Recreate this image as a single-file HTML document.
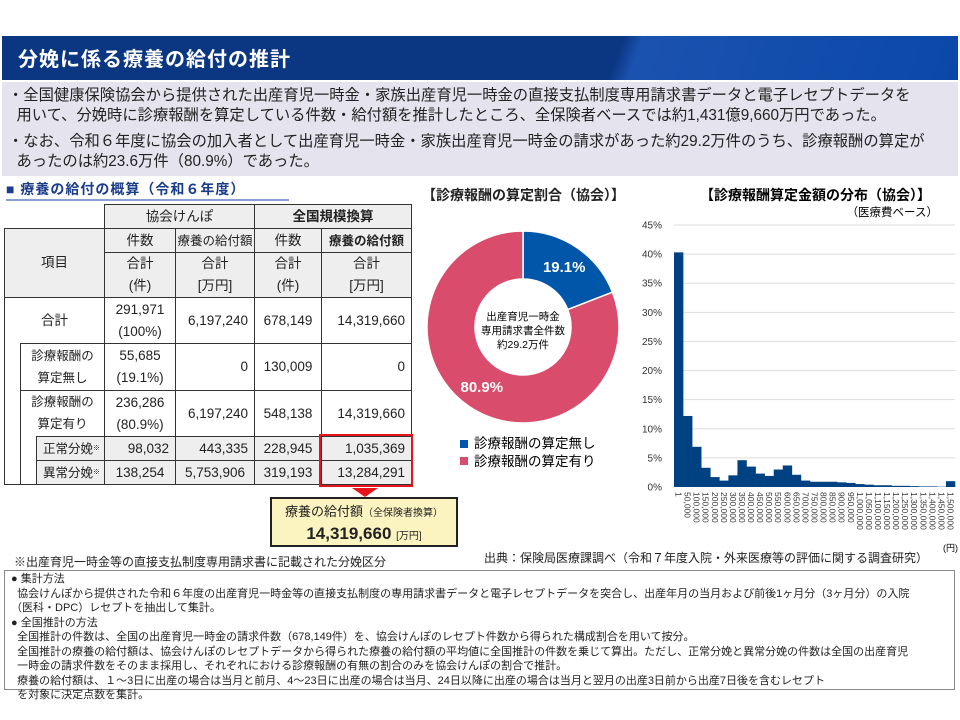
<!DOCTYPE html>
<html><head><meta charset="utf-8">
<style>
*{margin:0;padding:0;box-sizing:border-box}
body{width:960px;height:720px;background:#fff;position:relative;overflow:hidden;font-family:"Liberation Sans","Noto Sans CJK JP",sans-serif;color:#222}
.a{position:absolute}
.c{position:absolute;border:1.5px solid #333;display:flex;align-items:center;justify-content:center;text-align:center;font-size:13.5px;line-height:22px;background:#fff}
.g{background:#eee}
.r{justify-content:flex-end;padding-right:6px}
.l{justify-content:flex-start;padding-left:6px;text-align:left}
</style></head><body>
<div class="a" style="left:2px;top:36px;width:956px;height:44px;background:linear-gradient(110deg,#0b3682 0%,#0b3682 64%,#1b52b0 66%,#0a48a8 100%)"></div>
<div class="a" style="left:18px;top:43px;font-size:20px;font-weight:bold;color:#fff;letter-spacing:1px">分娩に係る療養の給付の推計</div>
<div class="a" style="left:2px;top:82px;width:956px;height:94px;background:#e5e4ee;font-size:15.3px;line-height:20px;padding:4px 6px;white-space:nowrap">
<div>・全国健康保険協会から提供された出産育児一時金・家族出産育児一時金の直接支払制度専用請求書データと電子レセプトデータを<br>&nbsp;&nbsp;用いて、分娩時に診療報酬を算定している件数・給付額を推計したところ、全保険者ベースでは約1,431億9,660万円であった。</div>
<div style="margin-top:6px">・なお、令和６年度に協会の加入者として出産育児一時金・家族出産育児一時金の請求があった約29.2万件のうち、診療報酬の算定が<br>&nbsp;&nbsp;あったのは約23.6万件（80.9%）であった。</div>
</div>
<div class="a" style="left:6px;top:179px;font-size:14px;font-weight:bold;color:#1a3c8c;border-bottom:2px solid #8aa0d0;letter-spacing:1px;width:283px">■ 療養の給付の概算（令和６年度）</div>

<div>
<div class="c g" style="left:104px;top:204px;width:151px;height:25px">協会けんぽ</div>
<div class="c g" style="left:254px;top:204px;width:158px;height:25px;font-weight:bold">全国規模換算</div>
<div class="c g" style="left:4px;top:228px;width:101px;height:70px">項目</div>
<div class="c g" style="left:104px;top:228px;width:72px;height:25px">件数</div>
<div class="c g" style="left:175px;top:228px;width:80px;height:25px;font-size:12.5px">療養の給付額</div>
<div class="c g" style="left:254px;top:228px;width:68px;height:25px">件数</div>
<div class="c g" style="left:321px;top:228px;width:91px;height:25px;font-weight:bold;font-size:12.5px">療養の給付額</div>
<div class="c g" style="left:104px;top:252px;width:72px;height:46px">合計<br>(件)</div>
<div class="c g" style="left:175px;top:252px;width:80px;height:46px">合計<br>[万円]</div>
<div class="c g" style="left:254px;top:252px;width:68px;height:46px">合計<br>(件)</div>
<div class="c g" style="left:321px;top:252px;width:91px;height:46px">合計<br>[万円]</div>

<div class="c" style="left:4px;top:297px;width:101px;height:188px;align-items:flex-start;padding-top:12px">合計</div>
<div class="c" style="left:104px;top:297px;width:72px;height:47px">291,971<br>(100%)</div>
<div class="c r" style="left:175px;top:297px;width:80px;height:47px">6,197,240</div>
<div class="c" style="left:254px;top:297px;width:68px;height:47px">678,149</div>
<div class="c r" style="left:321px;top:297px;width:91px;height:47px">14,319,660</div>

<div class="c" style="left:20px;top:343px;width:85px;height:48px;font-size:12.5px">診療報酬の<br>算定無し</div>
<div class="c" style="left:104px;top:343px;width:72px;height:48px">55,685<br>(19.1%)</div>
<div class="c r" style="left:175px;top:343px;width:80px;height:48px">0</div>
<div class="c" style="left:254px;top:343px;width:68px;height:48px">130,009</div>
<div class="c r" style="left:321px;top:343px;width:91px;height:48px">0</div>

<div class="c" style="left:20px;top:390px;width:85px;height:95px;align-items:flex-start;font-size:12.5px">診療報酬の<br>算定有り</div>
<div class="c" style="left:104px;top:390px;width:72px;height:47px">236,286<br>(80.9%)</div>
<div class="c r" style="left:175px;top:390px;width:80px;height:47px">6,197,240</div>
<div class="c" style="left:254px;top:390px;width:68px;height:47px">548,138</div>
<div class="c r" style="left:321px;top:390px;width:91px;height:47px">14,319,660</div>

<div class="c g l" style="left:36px;top:436px;width:69px;height:25px;font-size:12.5px">正常分娩<sup style="font-size:7px">※</sup></div>
<div class="c g r" style="left:104px;top:436px;width:72px;height:25px">98,032</div>
<div class="c g r" style="left:175px;top:436px;width:80px;height:25px">443,335</div>
<div class="c g" style="left:254px;top:436px;width:68px;height:25px">228,945</div>
<div class="c g r" style="left:321px;top:436px;width:91px;height:25px">1,035,369</div>
<div class="c g l" style="left:36px;top:460px;width:69px;height:25px;font-size:12.5px">異常分娩<sup style="font-size:7px">※</sup></div>
<div class="c g" style="left:104px;top:460px;width:72px;height:25px">138,254</div>
<div class="c g" style="left:175px;top:460px;width:80px;height:25px">5,753,906</div>
<div class="c g" style="left:254px;top:460px;width:68px;height:25px">319,193</div>
<div class="c g r" style="left:321px;top:460px;width:91px;height:25px">13,284,291</div>
</div>
<div class="a" style="left:319px;top:434px;width:94px;height:53px;border:2.5px solid #e8141c"></div>
<div class="a" style="left:352px;top:488px;width:0;height:0;border-left:13px solid transparent;border-right:13px solid transparent;border-top:9px solid #e8141c"></div>
<div class="a" style="left:270px;top:497px;width:188px;height:50px;border:2.5px solid #222;background:#fbf3c0;text-align:center;line-height:20px;padding-top:3px">
<div style="font-size:13px">療養の給付額<span style="font-size:10px">（全保険者換算）</span></div>
<div style="font-size:17px;font-weight:bold">14,319,660 <span style="font-size:10px;font-weight:normal">[万円]</span></div></div>

<div class="a" style="left:14px;top:553px;font-size:12px">※出産育児一時金等の直接支払制度専用請求書に記載された分娩区分</div>
<div class="a" style="left:484px;top:549px;font-size:12px">出典：保険局医療課調べ（令和７年度入院・外来医療等の評価に関する調査研究）</div>
<div class="a" style="left:4px;top:570px;width:951px;height:120px;border:1px solid #888;font-size:11px;line-height:14.5px;padding:1px 6px">
● 集計方法<br>
&nbsp;&nbsp;協会けんぽから提供された令和６年度の出産育児一時金等の直接支払制度の専用請求書データと電子レセプトデータを突合し、出産年月の当月および前後1ヶ月分（3ヶ月分）の入院<br>
（医科・DPC）レセプトを抽出して集計。<br>
● 全国推計の方法<br>
&nbsp;&nbsp;全国推計の件数は、全国の出産育児一時金の請求件数（678,149件）を、協会けんぽのレセプト件数から得られた構成割合を用いて按分。<br>
&nbsp;&nbsp;全国推計の療養の給付額は、協会けんぽのレセプトデータから得られた療養の給付額の平均値に全国推計の件数を乗じて算出。ただし、正常分娩と異常分娩の件数は全国の出産育児<br>
&nbsp;&nbsp;一時金の請求件数をそのまま採用し、それぞれにおける診療報酬の有無の割合のみを協会けんぽの割合で推計。<br>
&nbsp;&nbsp;療養の給付額は、１～3日に出産の場合は当月と前月、4～23日に出産の場合は当月、24日以降に出産の場合は当月と翌月の出産3日前から出産7日後を含むレセプト<br>
&nbsp;&nbsp;を対象に決定点数を集計。</div>

<svg class="a" style="left:0;top:0" width="960" height="720">
<text x="422" y="200" font-size="14" font-weight="bold" fill="#222">【診療報酬の算定割合（協会）】</text>
<g id="pie"></g>
<text x="523" y="320" font-size="10.5" text-anchor="middle">出産育児一時金</text>
<text x="523" y="334" font-size="10.5" text-anchor="middle">専用請求書全件数</text>
<text x="523" y="348" font-size="10.5" text-anchor="middle">約29.2万件</text>
<rect x="460" y="440" width="8" height="8" fill="#0056a8"/>
<text x="474" y="448" font-size="13.5">診療報酬の算定無し</text>
<rect x="460" y="457" width="8" height="8" fill="#d94c6c"/>
<text x="474" y="466" font-size="13.5">診療報酬の算定有り</text>
<text x="700" y="200" font-size="14" font-weight="bold">【診療報酬算定金額の分布（協会）】</text>
<text x="938" y="216" font-size="11.5" text-anchor="end">（医療費ベース）</text>
<g id="hist"></g>
<text x="958" y="551" font-size="9" text-anchor="end">(円)</text>
</svg>
<script>
const pieLabels=["診療報酬の算定無し","診療報酬の算定有り"];
const pieValues=[19.1,80.9];
const pieText=["19.1%","80.9%"];
const histCats=["1","50,000","100,000","150,000","200,000","250,000","300,000","350,000","400,000","450,000","500,000","550,000","600,000","650,000","700,000","750,000","800,000","850,000","900,000","950,000","1,000,000","1,050,000","1,100,000","1,150,000","1,200,000","1,250,000","1,300,000","1,350,000","1,400,000","1,450,000","1,500,000"];
const histValues=[40.3,12.2,6.9,3.3,1.7,1.1,2.0,4.6,3.5,2.3,1.9,3.0,3.7,2.1,1.1,0.9,0.9,0.9,0.8,0.7,0.5,0.4,0.3,0.3,0.2,0.2,0.15,0.1,0.1,0.05,1.0];
const yTicks=[0,5,10,15,20,25,30,35,40,45];
const NS="http://www.w3.org/2000/svg";
function mk(t,a,p){const e=document.createElementNS(NS,t);for(const k in a)e.setAttribute(k,a[k]);p.appendChild(e);return e;}
const pg=document.getElementById('pie');
const cx=523,cy=327,R=96,r0=48,cols=["#0056a8","#d94c6c"];
const tot=pieValues.reduce((a,b)=>a+b,0);
let ang=0;
pieValues.forEach((v,i)=>{
  const a0=ang,a1=ang+v/tot*2*Math.PI;ang=a1;
  const P=(rad,a)=>[cx+rad*Math.sin(a),cy-rad*Math.cos(a)];
  const [x0,y0]=P(R,a0),[x1,y1]=P(R,a1),[x2,y2]=P(r0,a1),[x3,y3]=P(r0,a0);
  const lg=(a1-a0)>Math.PI?1:0;
  const p=mk('path',{d:`M${x0},${y0}A${R},${R} 0 ${lg} 1 ${x1},${y1}L${x2},${y2}A${r0},${r0} 0 ${lg} 0 ${x3},${y3}Z`,fill:cols[i],stroke:'#fff','stroke-width':1.5},pg);
  
  
  const mid=(a0+a1)/2;
  const [tx,ty]=P(73,mid);
  const t=mk('text',{x:tx,y:ty+5,'font-size':15,'font-weight':'bold',fill:'#fff','text-anchor':'middle'},pg);
  t.textContent=pieText[i];
  
  
});
const hg=document.getElementById('hist');
const X0=674,X1=955,Y0=487,Y45=225;
const yS=v=>Y0-(v/45)*(Y0-Y45);
const bw=(X1-X0)/histCats.length;
yTicks.forEach(t=>{
  if(t>0){const l=mk('line',{x1:X0,x2:X1,y1:yS(t),y2:yS(t),stroke:'#ddd','stroke-width':1},hg);
  
  }
  const tx=mk('text',{x:X0-12,y:yS(t)+3.5,'font-size':10,'text-anchor':'end',fill:'#333'},hg);
  tx.textContent=t+'%';
  
  
});
histValues.forEach((v,i)=>{
  const b=mk('rect',{x:X0+i*bw,y:yS(v),width:bw+0.3,height:Y0-yS(v),fill:'#004182'},hg);
  
  
});
histCats.forEach((c,i)=>{
  const x=X0+i*bw+bw/2-3,y=492;
  const t=mk('text',{x:x,y:y,'font-size':8.5,fill:'#333',transform:`rotate(90 ${x} ${y})`},hg);
  t.textContent=c;
  
  
});
</script>
</body></html>
